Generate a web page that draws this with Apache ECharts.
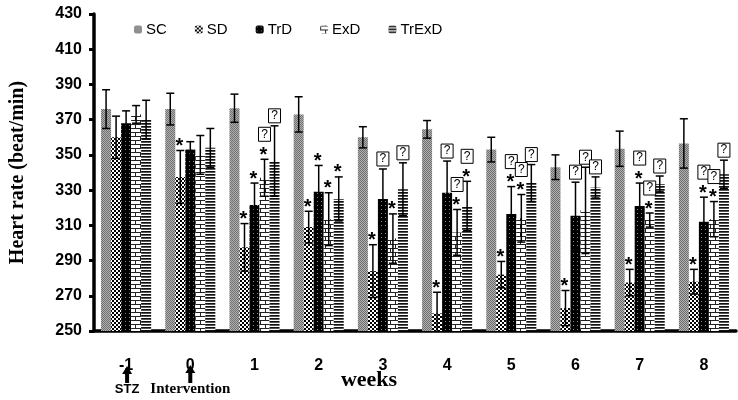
<!DOCTYPE html>
<html><head><meta charset="utf-8">
<script src="https://cdn.jsdelivr.net/npm/echarts@6/dist/echarts.min.js"></script>
<style>html,body{margin:0;padding:0;background:#fff}#c{width:738px;height:400px}</style>
</head><body><div id="c"></div>
<script>
const categories = ['-1','0','1','2','3','4','5','6','7','8'];
const seriesNames = ['SC','SD','TrD','ExD','TrExD'];
const scMean    = [376, 376, 376.5, 373, 360, 364.5, 353, 343, 353.5, 356.5];
const scErr     = [11, 9, 8, 10, 6, 5, 7, 7, 10, 14];
const sdMean    = [360, 337.5, 297.5, 309, 284, 260, 282, 263, 277.5, 278];
const sdErr     = [12, 15, 13.5, 9, 15, 12, 7.5, 10, 7.5, 7];
const trdMean   = [368, 353, 321.5, 329, 325, 328.5, 316.5, 315.5, 321, 312];
const trdErr    = [7, 4.5, 12.5, 15, 17, 18, 15.5, 19, 13, 14];
const exdMean   = [373, 350, 337, 313.5, 302.5, 306, 314, 318.5, 313, 313.5];
const exdErr    = [5, 11, 10.5, 15, 14, 13, 13.5, 24.5, 4, 10];
const trexdMean = [370, 354, 346.5, 325, 330.5, 321, 334, 331.5, 333.5, 339];
const trexdErr  = [11, 11, 20, 12.5, 15, 14, 10.5, 6, 4.5, 8];
// significance marks: '*' and boxed '?' (stacked upward in order)
const scMarks    = ['', '', '', '', '', '', '', '', '', ''];
const sdMarks    = ['', '*', '*', '*', '*', '*', '*', '*', '*', '*'];
const trdMarks   = ['', '', '*', '*', '?', '?', '*?', '?', '*?', '*?'];
const exdMarks   = ['', '', '*?', '*', '*', '*?', '*?', '?', '*?', '*?'];
const trexdMarks = ['', '', '?', '*', '?', '*?', '?', '?', '?', '?'];
const yTicks = [250, 270, 290, 310, 330, 350, 370, 390, 410, 430];

const means = [scMean, sdMean, trdMean, exdMean, trexdMean];
const errs = [scErr, sdErr, trdErr, exdErr, trexdErr];
const marks = [scMarks, sdMarks, trdMarks, exdMarks, trexdMarks];
const Y_MIN = 250;

function pat(w, h, draw) {
  const c = document.createElement('canvas'); c.width = w; c.height = h;
  const g = c.getContext('2d'); draw(g); return c;
}
const patterns = [
  pat(2, 2, g => { g.fillStyle = '#b0b0b0'; g.fillRect(0,0,2,2); g.fillStyle = '#707070'; g.fillRect(0,0,1,1); g.fillRect(1,1,1,1); }),
  pat(4, 4, g => { g.fillStyle = '#fff'; g.fillRect(0,0,4,4); g.fillStyle = '#000'; g.fillRect(0,0,2,2); g.fillRect(2,2,2,2); }),
  pat(4, 4, g => { g.fillStyle = '#000'; g.fillRect(0,0,4,4); g.fillStyle = '#888'; g.fillRect(1,1,1,1); }),
  pat(10, 8, g => { g.fillStyle = '#fff'; g.fillRect(0,0,10,8); g.fillStyle = '#222'; g.fillRect(0,0,10,1); g.fillRect(0,4,10,1); g.fillRect(0,1,1,3); g.fillRect(5,5,1,3); }),
  pat(2, 3, g => { g.fillStyle = '#fff'; g.fillRect(0,0,2,3); g.fillStyle = '#111'; g.fillRect(0,0,2,1); g.fillStyle = '#555'; g.fillRect(0,1,2,1); })
];

const GAP = 0.22;
const chart = echarts.init(document.getElementById('c'), null, {renderer: 'canvas'});

const barSeries = seriesNames.map((n, i) => ({
  name: n, type: 'bar', data: means[i], barGap: '0%', barCategoryGap: (GAP*100) + '%',
  itemStyle: { color: { image: patterns[i], repeat: 'repeat' } }, z: 2
}));

const errData = [];
for (let s = 0; s < 5; s++) for (let c = 0; c < categories.length; c++) errData.push([c, s, means[s][c], errs[s][c]]);

const errSeries = {
  type: 'custom', name: 'err', data: errData, z: 5, encode: { x: 0, y: 2 },
  renderItem(params, api) {
    const ci = api.value(0), si = api.value(1), m = api.value(2), e = api.value(3);
    const bw = api.size([1, 0])[0];
    const barW = bw * (1 - GAP) / 5;
    const c = api.coord([ci, m]);
    const x = c[0] + (si - 2) * barW;
    const top = api.coord([ci, m + e])[1];
    const low = m - e;
    const bot = api.coord([ci, Math.max(low, Y_MIN)])[1];
    const st = { stroke: '#000', lineWidth: 1.5 };
    const ch = [
      { type: 'line', shape: { x1: x, y1: top, x2: x, y2: bot }, style: st },
      { type: 'line', shape: { x1: x - 4, y1: top, x2: x + 4, y2: top }, style: st }
    ];
    if (low >= Y_MIN) ch.push({ type: 'line', shape: { x1: x - 4, y1: bot, x2: x + 4, y2: bot }, style: st });
    let cur = top - 1;
    const mk = marks[si][ci];
    for (const k of mk) {
      if (k === '*') {
        ch.push({ type: 'text', style: { text: '*', x: x - 1, y: cur + 7, align: 'center', verticalAlign: 'bottom', font: 'bold 20px "Liberation Sans"', fill: '#000' } });
        cur -= 15;
      } else {
        ch.push({ type: 'rect', shape: { x: x - 6, y: cur - 16, width: 12, height: 14 }, style: { fill: '#fff', stroke: '#000', lineWidth: 1 } });
        ch.push({ type: 'text', style: { text: '?', x: x, y: cur - 9, align: 'center', verticalAlign: 'middle', font: '12px "Liberation Sans"', fill: '#000' } });
        cur -= 20;
      }
    }
    return { type: 'group', children: ch };
  }
};

chart.setOption({
  animation: false,
  grid: { left: 91, width: 645, top: 14, bottom: 69 },
  legend: {
    data: seriesNames, top: 17, left: 129, itemWidth: 8, itemHeight: 8, itemGap: 28,
    textStyle: { fontFamily: 'Liberation Sans', fontSize: 15, color: '#000', padding: [0,0,0,-1] }
  },
  xAxis: {
    type: 'category', data: categories,
    axisLine: { lineStyle: { color: '#000', width: 3.5 } },
    axisTick: { alignWithLabel: true, length: 5, lineStyle: { color: '#000', width: 3 } },
    axisLabel: { margin: 27, fontFamily: 'Liberation Sans', fontWeight: 'bold', fontSize: 16, color: '#000' }
  },
  yAxis: {
    type: 'value', min: Y_MIN, max: 430, interval: 20,
    name: 'Heart rate (beat/min)', nameLocation: 'middle', nameGap: 66,
    nameTextStyle: { fontFamily: 'Liberation Serif', fontWeight: 'bold', fontSize: 20, color: '#000' },
    splitLine: { show: false },
    axisLine: { show: true, lineStyle: { color: '#000', width: 3.5 } },
    axisTick: { show: true, length: 5, lineStyle: { color: '#000', width: 3 } },
    axisLabel: { margin: 12, fontFamily: 'Liberation Sans', fontWeight: 'bold', fontSize: 16, color: '#000',
      formatter: v => yTicks.includes(v) ? String(v) : '' }
  },
  series: [...barSeries, errSeries]
});

const p0 = chart.convertToPixel({ xAxisIndex: 0 }, 0);
const p1 = chart.convertToPixel({ xAxisIndex: 0 }, 1);
function arrow(x, yTop, yBot) {
  return { type: 'polygon', shape: { points: [[x, yTop], [x + 5, yTop + 8], [x + 2, yTop + 8], [x + 2, yBot], [x - 2, yBot], [x - 2, yTop + 8], [x - 5, yTop + 8]] }, style: { fill: '#000' }, z: 10 };
}
chart.setOption({
  graphic: [
    arrow(p0 + 1, 366, 383),
    arrow(p1, 365, 383),
    { type: 'text', style: { text: 'STZ', x: p0 + 1, y: 389, align: 'center', verticalAlign: 'middle', font: 'bold 13px "Liberation Sans"', fill: '#000' } },
    { type: 'text', style: { text: 'Intervention', x: p1, y: 389, align: 'center', verticalAlign: 'middle', font: 'bold 15px "Liberation Serif"', fill: '#000' } },
    { type: 'text', style: { text: 'weeks', x: 369, y: 380, align: 'center', verticalAlign: 'middle', font: 'bold 22px "Liberation Serif"', fill: '#000' } }
  ]
});
</script></body></html>
